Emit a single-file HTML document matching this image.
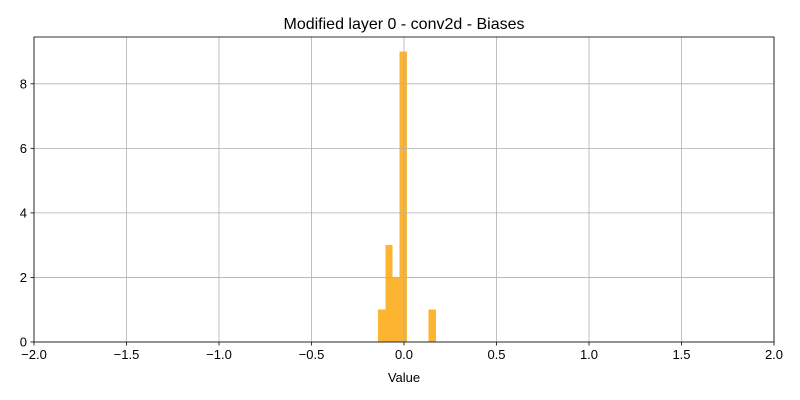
<!DOCTYPE html>
<html><head><meta charset="utf-8"><style>body{margin:0;background:#fff}svg{display:block;font-family:"Liberation Sans","DejaVu Sans",sans-serif}</style></head>
<body>
<svg id="c" width="800" height="400"></svg>
<script>
const binStart = -0.140;
const binWidth = 0.039;
const counts = [1, 3, 2, 9, 0, 0, 0, 1];
const xTicks = [-2.0, -1.5, -1.0, -0.5, 0.0, 0.5, 1.0, 1.5, 2.0];
const yTicks = [0, 2, 4, 6, 8];
const NS = "http://www.w3.org/2000/svg";
const svg = document.getElementById('c');
const L = 34, R = 774, T = 37, B = 342;
const xMin = -2, xMax = 2, yMax = 9.45;
const xs = v => L + (v - xMin) / (xMax - xMin) * (R - L);
const ys = v => B - v / yMax * (B - T);
function mk(tag, attrs, txt) { const e = document.createElementNS(NS, tag); for (const k in attrs) e.setAttribute(k, attrs[k]); if (txt !== undefined) e.textContent = txt; svg.appendChild(e); return e; }
counts.forEach((c, i) => {
  if (!c) return;
  const x0 = xs(binStart + i * binWidth), x1 = xs(binStart + (i + 1) * binWidth);
  const r = mk('rect', { x: x0, y: ys(c), width: x1 - x0, height: B - ys(c), fill: '#fdb431', 'shape-rendering': 'crispEdges' });
  
  
});
xTicks.forEach(t => {
  const x = xs(t);
  const g = mk('line', { x1: x, x2: x, y1: T, y2: B, stroke: '#b0b0b0', 'stroke-width': 0.8 });
  
  
  mk('line', { x1: x, x2: x, y1: B, y2: B + 3.5, stroke: '#000', 'stroke-width': 0.8 });
  const lb = mk('text', { x: x, y: B + 17, 'text-anchor': 'middle', 'font-size': 13 }, t.toFixed(1).replace('-', '\u2212'));
  
  
});
yTicks.forEach(t => {
  const y = ys(t);
  const g = mk('line', { x1: L, x2: R, y1: y, y2: y, stroke: '#b0b0b0', 'stroke-width': 0.8 });
  
  
  mk('line', { x1: L - 3.5, x2: L, y1: y, y2: y, stroke: '#000', 'stroke-width': 0.8 });
  const lb = mk('text', { x: L - 7, y: y + 4.5, 'text-anchor': 'end', 'font-size': 13 }, String(t));
  
  
});
const fr = mk('rect', { x: L, y: T, width: R - L, height: B - T, fill: 'none', stroke: '#000', 'stroke-width': 0.8 });


const tt = mk('text', { x: (L + R) / 2, y: 29, 'text-anchor': 'middle', 'font-size': 16 }, 'Modified layer 0 - conv2d - Biases');


const xl = mk('text', { x: (L + R) / 2, y: 382, 'text-anchor': 'middle', 'font-size': 13 }, 'Value');


</script>
</body></html>
